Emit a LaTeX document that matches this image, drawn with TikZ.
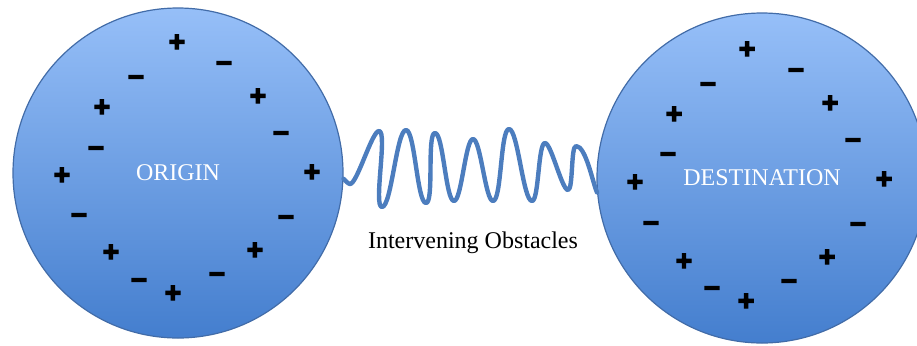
\documentclass[tikz,border=0pt]{standalone}
\usepackage{fontspec}
\setmainfont{Liberation Serif}
\newfontfamily\signfont{Liberation Sans Bold}[FakeBold=5]
\definecolor{balltop}{RGB}{150,191,248}
\definecolor{ballbottom}{RGB}{68,126,206}
\definecolor{ballrim}{RGB}{66,108,168}
\definecolor{waveblue}{RGB}{76,125,190}
\begin{document}
\begin{tikzpicture}[x=0.5pt, y=-0.5pt, font=\fontsize{12}{14}\selectfont,
    ball/.style={circle, draw=ballrim, line width=0.6pt, top color=balltop, bottom color=ballbottom,
      text=white, minimum size=165pt, inner sep=0pt},
    charge/.style={font=\signfont\fontsize{14}{14}\selectfont, inner sep=0pt},
    wave/.style={draw=waveblue, line width=2.2pt, line cap=round, line join=round},
    hump/.style={out=0, in=180, looseness=0.3}]
			% Bildbereich
			\useasboundingbox (0,0) rectangle (917,345);
			% Kugeln
			\node[ball] (origin) at (178,173) {ORIGIN};
			\node[ball] (destination) at (762,178) {DESTINATION};
			% Ladungen links
			\foreach [count=\i] \p in {(177,43),(258,97),(102,108),(62,176),(312,173),(111,253),(255,251),(173,294)}
				\node[charge] (op\i) at \p {+};
			\foreach [count=\i] \p in {(224,66),(136,80),(281,136),(96,151),(79,218),(286,220),(217,277),(139,283)}
				\node[charge] (om\i) at \p {\textendash};
			% Ladungen rechts
			\foreach [count=\i] \p in {(747,50),(830,104),(674,115),(635,183),(884,180),(684,262),(827,258),(746,302)}
				\node[charge] (dp\i) at \p {+};
			\foreach [count=\i] \p in {(796,73),(708,87),(853,143),(668,157),(651,226),(858,227),(789,284),(712,291)}
				\node[charge] (dm\i) at \p {\textendash};
			% Welle
			\draw[wave] (origin.-2) to[out=-40, in=180, looseness=0.6] (350,184)
				to[hump] (379,131) to[hump] (382,207) to[hump] (406,130) to[hump] (426,203)
				to[hump] (435,133) to[hump] (454,201) to[hump] (473,139) to[hump] (493,201)
				to[hump] (509,129) to[hump] (532,201) to[hump] (545,143) to[hump] (568,190)
				to[hump] (576,146) to[out=0, in=115, looseness=0.5] (destination.185);
			% Beschriftung
			\node (obstacles) at (473,243) {Intervening Obstacles};
		\end{tikzpicture}
\end{document}
